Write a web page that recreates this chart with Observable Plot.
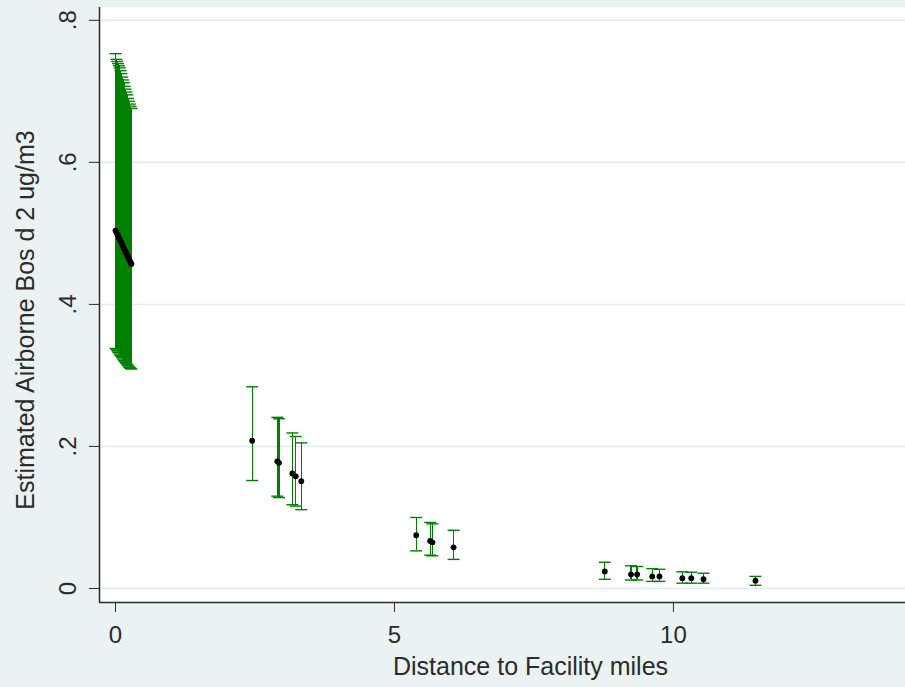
<!DOCTYPE html>
<html>
<head>
<meta charset="utf-8">
<script src="https://cdn.jsdelivr.net/npm/d3@7"></script>
<script src="https://cdn.jsdelivr.net/npm/@observablehq/plot@0.6"></script>
<style>
  html, body { margin: 0; padding: 0; background: #eaf2f3; }
  #chart svg { display: block; }
</style>
</head>
<body>
<div id="chart"></div>
<script>
// Distance to facility (miles)
const distance = [
  0.00, 0.015, 0.03, 0.045, 0.06, 0.075, 0.09, 0.105, 0.12, 0.135,
  0.15, 0.165, 0.18, 0.195, 0.21, 0.225, 0.24, 0.255, 0.27, 0.285,
  2.45, 2.90, 2.93, 3.17, 3.23, 3.33,
  5.39, 5.64, 5.68, 6.06,
  8.77, 9.24, 9.35, 9.62, 9.75, 10.16, 10.32, 10.54, 11.47
];
// Point estimate (ug/m3)
const estimate = [
  0.504, 0.502, 0.499, 0.497, 0.494, 0.492, 0.489, 0.487, 0.484, 0.482,
  0.479, 0.477, 0.474, 0.472, 0.469, 0.467, 0.464, 0.462, 0.459, 0.457,
  0.208, 0.179, 0.177, 0.162, 0.158, 0.151,
  0.075, 0.067, 0.065, 0.058,
  0.024, 0.020, 0.020, 0.017, 0.017, 0.0145, 0.0145, 0.013, 0.011
];
// Upper confidence limit
const upper = [
  0.753, 0.745, 0.742, 0.739, 0.736, 0.733, 0.729, 0.725, 0.720, 0.716,
  0.712, 0.707, 0.703, 0.699, 0.695, 0.690, 0.686, 0.682, 0.679, 0.676,
  0.284, 0.241, 0.239, 0.219, 0.214, 0.205,
  0.100, 0.093, 0.091, 0.082,
  0.037, 0.032, 0.031, 0.028, 0.027, 0.0235, 0.023, 0.0215, 0.017
];
// Lower confidence limit
const lower = [
  0.338, 0.337, 0.335, 0.333, 0.332, 0.330, 0.328, 0.327, 0.325, 0.323,
  0.321, 0.320, 0.318, 0.317, 0.315, 0.314, 0.312, 0.311, 0.310, 0.309,
  0.152, 0.130, 0.128, 0.118, 0.116, 0.111,
  0.053, 0.047, 0.046, 0.041,
  0.013, 0.012, 0.012, 0.010, 0.010, 0.0075, 0.0075, 0.0075, 0.0045
];

const xTicks = [0, 5, 10];
const yTicks = [0, 0.2, 0.4, 0.6, 0.8];
const xTitle = "Distance to Facility miles";
const yTitle = "Estimated Airborne Bos d 2 ug/m3";
const xDomain = [-0.287, 14.16];
const yDomain = [-0.0197, 0.818];

const data = distance.map((d, i) => ({x: d, y: estimate[i], hi: upper[i], lo: lower[i]}));

const green = "#008000";
const axisColor = "#2b2b2b";
const yFmt = d => d === 0 ? "0" : d3.format(".1f")(d).replace(/^0/, "");

const capSymbol = {
  draw(ctx, size) {
    const r = Math.sqrt(size / Math.PI);
    ctx.moveTo(-r, 0);
    ctx.lineTo(r, 0);
  }
};

const chart = Plot.plot({
  width: 905,
  height: 687,
  marginLeft: 99,
  marginRight: 0,
  marginTop: 7,
  marginBottom: 85,
  style: {background: "#eaf2f3", fontFamily: "'Liberation Sans', Arial, sans-serif", color: axisColor},
  x: {domain: xDomain, axis: null},
  y: {domain: yDomain, axis: null},
  marks: [
    Plot.frame({fill: "white", stroke: "none"}),
    Plot.ruleY(yTicks, {stroke: "#e2ecef", strokeWidth: 1.5}),
    Plot.ruleX([xDomain[0]], {stroke: axisColor, strokeWidth: 1.5}),
    Plot.ruleY([yDomain[0]], {stroke: axisColor, strokeWidth: 1.5}),
    Plot.ruleX(data, {x: "x", y1: "lo", y2: "hi", stroke: green, strokeWidth: 1.3, shapeRendering: "crispEdges"}),
    Plot.dot(data, {x: "x", y: "hi", symbol: capSymbol, r: 6, stroke: green, fill: "none", strokeWidth: 1.4}),
    Plot.dot(data, {x: "x", y: "lo", symbol: capSymbol, r: 6, stroke: green, fill: "none", strokeWidth: 1.4}),
    Plot.dot(data, {x: "x", y: "y", r: 2.9, fill: "black", stroke: "none"}),
    Plot.axisX(xTicks, {tickSize: 10, tickPadding: 13, fontSize: 24, label: null, stroke: axisColor, fill: axisColor}),
    Plot.axisY(yTicks, {tickSize: 10, tickFormat: () => "", label: null, stroke: axisColor}),
    Plot.text(yTicks, {y: d => d, frameAnchor: "left", textAnchor: "middle", dx: -31, rotate: -90, text: yFmt, fontSize: 24, fill: axisColor}),
    Plot.text([yTitle], {frameAnchor: "left", textAnchor: "middle", dx: -74, dy: 15, rotate: -90, text: d => d, fontSize: 25, fill: axisColor}),
    Plot.text([xTitle], {frameAnchor: "bottom", textAnchor: "middle", dx: 28, dy: 72, text: d => d, fontSize: 25, fill: axisColor})
  ]
});
document.getElementById("chart").appendChild(chart);
</script>
</body>
</html>
